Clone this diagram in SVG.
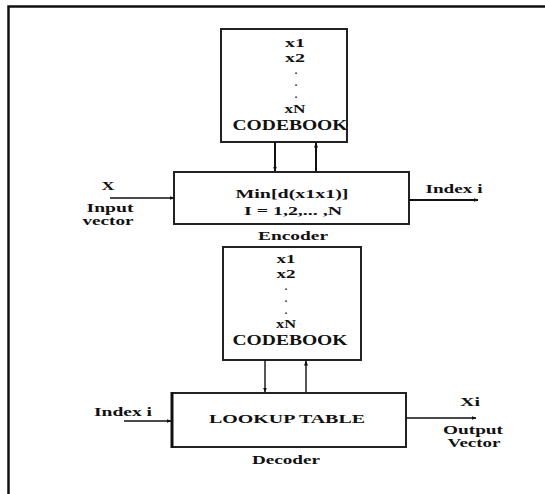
<svg xmlns="http://www.w3.org/2000/svg" width="545" height="494" viewBox="0 0 545 494">
<defs>
<marker id="ah" viewBox="0 0 10 10" refX="9" refY="5" markerWidth="5" markerHeight="5" orient="auto" markerUnits="userSpaceOnUse"><path d="M0,1 L10,5 L0,9 z" fill="#111"/></marker>
</defs>
<style>
.t{font-family:"Liberation Serif","Times New Roman",serif;font-weight:bold;fill:#111;text-anchor:middle;font-size:13px}
.cb{font-size:15px}
.d{font-size:10px}
.s{font-size:11.5px}
.box{fill:#fff;stroke:#222;stroke-width:2}
.ln{stroke:#111;stroke-width:1.4;fill:none}
.lt{stroke:#111;stroke-width:2;fill:none}
</style>
<rect width="545" height="494" fill="#fff"/>
<path d="M8.5,494 V6.5 H545" stroke="#111" stroke-width="2.5" fill="none"/>
<g id="codebook1">
<rect class="box" x="221" y="29" width="126" height="113"/>
<text class="t" x="295" y="47" textLength="20" lengthAdjust="spacingAndGlyphs">x1</text>
<text class="t" x="295" y="62" textLength="20" lengthAdjust="spacingAndGlyphs">x2</text>
<text class="t d" x="296" y="74">.</text>
<text class="t d" x="296" y="86">.</text>
<text class="t d" x="296" y="98">.</text>
<text class="t" x="295" y="113" textLength="21" lengthAdjust="spacingAndGlyphs">xN</text>
<text class="t cb" x="290" y="130" textLength="115" lengthAdjust="spacingAndGlyphs">CODEBOOK</text>
</g>
<g id="encoder">
<rect class="box" x="174" y="172" width="235" height="52"/>
<text class="t" x="292" y="198" textLength="113" lengthAdjust="spacingAndGlyphs">Min[d(x1x1)]</text>
<text class="t" x="293" y="215" textLength="98" lengthAdjust="spacingAndGlyphs">I = 1,2,... ,N</text>
<text class="t" x="293" y="240" textLength="70" lengthAdjust="spacingAndGlyphs">Encoder</text>
</g>
<g id="codebook2">
<rect class="box" x="223" y="247" width="138" height="113"/>
<text class="t" x="286" y="263" textLength="19" lengthAdjust="spacingAndGlyphs">x1</text>
<text class="t" x="286" y="278" textLength="19" lengthAdjust="spacingAndGlyphs">x2</text>
<text class="t d" x="286" y="290">.</text>
<text class="t d" x="286" y="302">.</text>
<text class="t d" x="286" y="314">.</text>
<text class="t" x="286" y="328" textLength="20" lengthAdjust="spacingAndGlyphs">xN</text>
<text class="t cb" x="290" y="345" textLength="115" lengthAdjust="spacingAndGlyphs">CODEBOOK</text>
</g>
<g id="decoder">
<rect class="box" x="172" y="393" width="234" height="54"/>
<line x1="172" y1="392" x2="172" y2="448" stroke="#111" stroke-width="3"/>
<text class="t" x="287" y="423" textLength="156" lengthAdjust="spacingAndGlyphs">LOOKUP TABLE</text>
<text class="t" x="286" y="464" textLength="68" lengthAdjust="spacingAndGlyphs">Decoder</text>
</g>
<g id="labels">
<text class="t" x="108" y="190" textLength="13" lengthAdjust="spacingAndGlyphs">X</text>
<text class="t s" x="110" y="212" textLength="47" lengthAdjust="spacingAndGlyphs">Input</text>
<text class="t s" x="108" y="225" textLength="51" lengthAdjust="spacingAndGlyphs">vector</text>
<text class="t" x="454" y="193" textLength="57" lengthAdjust="spacingAndGlyphs">Index i</text>
<text class="t" x="123" y="416" textLength="58" lengthAdjust="spacingAndGlyphs">Index i</text>
<text class="t" x="470" y="406" textLength="20" lengthAdjust="spacingAndGlyphs">Xi</text>
<text class="t s" x="473" y="434" textLength="60" lengthAdjust="spacingAndGlyphs">Output</text>
<text class="t s" x="474" y="447" textLength="53" lengthAdjust="spacingAndGlyphs">Vector</text>
</g>
<g id="connectors">
<line class="lt" x1="275" y1="142" x2="275" y2="171" marker-end="url(#ah)"/>
<line class="lt" x1="316" y1="171" x2="316" y2="143" marker-end="url(#ah)"/>
<line class="ln" x1="110" y1="198" x2="174" y2="198" marker-end="url(#ah)"/>
<line class="lt" x1="409" y1="200" x2="478" y2="200" marker-end="url(#ah)"/>
<line class="ln" x1="265" y1="360" x2="265" y2="392" marker-end="url(#ah)"/>
<line class="ln" x1="306" y1="392" x2="306" y2="361" marker-end="url(#ah)"/>
<line class="ln" x1="124" y1="421" x2="171" y2="421" marker-end="url(#ah)"/>
<line class="ln" x1="406" y1="418" x2="476" y2="418" marker-end="url(#ah)"/>
</g>
</svg>
